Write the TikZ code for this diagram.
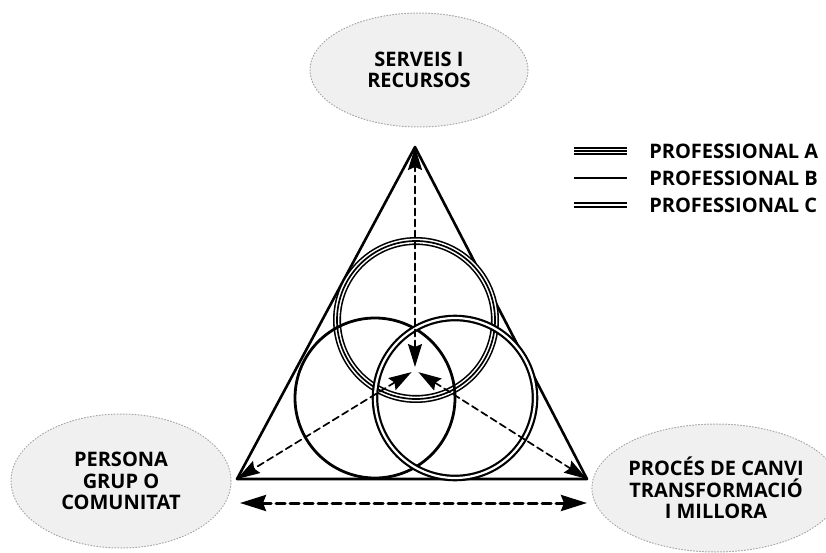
\documentclass[tikz,border=0pt]{standalone}
\usepackage{fontspec}
\setmainfont{Open Sans}
\usetikzlibrary{arrows.meta,shapes.geometric}

\newcommand{\capsfont}{\fontsize{20}{21.5}\selectfont\bfseries}

\tikzset{
  bubble/.style={ellipse, fill=black!6, draw=black!35, dotted,
    line width=1pt, inner sep=0pt, align=center, font=\capsfont},
  legendtext/.style={anchor=west, inner sep=0pt, font=\capsfont},
  proA/.style={line width=8pt,
    postaction={draw, white, line width=4.8pt},
    postaction={draw, black, line width=1.7pt}},
  proB/.style={line width=2.8pt},
  proC/.style={double, double distance=2.2pt, line width=2.2pt},
  link/.style={line width=1.7pt, dash pattern=on 7pt off 4pt,
    {Stealth[length=23pt,width=14pt,inset=3pt]}-{Stealth[length=23pt,width=14pt,inset=3pt]}},
  span/.style={line width=3pt, dash pattern=on 9pt off 5pt,
    {Stealth[length=26pt,width=16pt,inset=3pt]}-{Stealth[length=26pt,width=16pt,inset=3pt]}}
}

\begin{document}
\begin{tikzpicture}[line width=2.6pt, line cap=round, line join=round, x=1pt, y=-1pt]
  \useasboundingbox (0,0) rectangle (826,553);
  % The three poles, each a pale speckled cloud with its caption.
  \node[bubble, minimum width=218pt, minimum height=114pt] (services) at (419,70) {SERVEIS I\\RECURSOS};
  \node[bubble, minimum width=220pt, minimum height=134pt] (person) at (121,481) {PERSONA\\GRUP O\\COMUNITAT};
  \node[bubble, minimum width=226pt, minimum height=128pt] (process) at (716,488) {PROCÉS DE CANVI\\TRANSFORMACIÓ\\I MILLORA};
  % Corners of the triangle and the point where the links meet.
  \coordinate (apex) at (415,147);
  \coordinate (west) at (237,479);
  \coordinate (east) at (587,479);
  \coordinate (hub) at (415,370);
  \draw (apex) -- (west) -- (east) -- cycle;
  % One circle per professional, each in its own stroke.
  \draw[proA] (416,320) circle[radius=79pt];
  \draw[proB] (375,398) circle[radius=80pt];
  \draw[proC] (455,398) circle[radius=80pt];
  % Dashed two-way links from the centre out to each corner.
  \draw[link, shorten <=3pt] (hub) -- (apex);
  \draw[link, shorten <=4pt] (hub) -- (west);
  \draw[link, shorten <=4pt] (hub) -- (east);
  % The long link under the base.
  \coordinate (span west) at (240,503);
  \coordinate (span east) at (587,503);
  \draw[span] (span west) -- (span east);
  % Legend: a sample of each stroke beside its name.
  \node[legendtext] (legA) at (648,151) {PROFESSIONAL A};
  \node[legendtext] (legB) at (648,178) {PROFESSIONAL B};
  \node[legendtext] (legC) at (648,205) {PROFESSIONAL C};
  \draw[proA, line cap=butt] ([xshift=-74pt]legA.west) -- ([xshift=-21pt]legA.west);
  \draw[proB, line cap=butt] ([xshift=-74pt]legB.west) -- ([xshift=-21pt]legB.west);
  \draw[proC, line cap=butt] ([xshift=-74pt]legC.west) -- ([xshift=-21pt]legC.west);
\end{tikzpicture}
\end{document}
